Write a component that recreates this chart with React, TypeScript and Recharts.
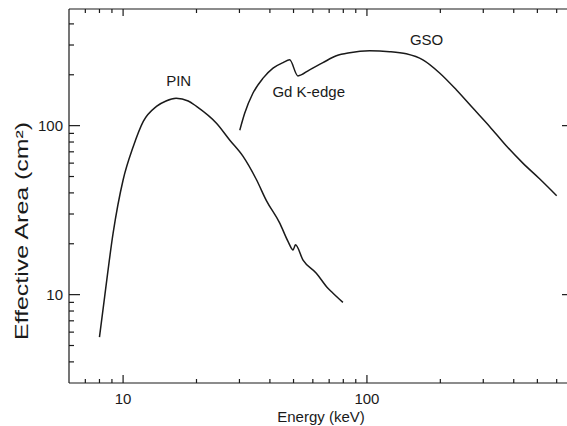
import { LineChart, Line, XAxis, YAxis, ReferenceDot, ReferenceLine } from "recharts";

// PIN diode effective area (keV, cm2)
const pinEnergy = [8.0, 8.4, 9.1, 10.0, 11.0, 12.1, 13.7, 15.0, 16.5, 18.5, 20.0, 24.2, 27.4, 31.0, 35.2, 38.7, 43.9, 47.5, 49.8, 50.9, 54.7, 62.0, 69.2, 72.6, 79.7];
const pinArea = [5.6, 9.7, 23.1, 47.7, 75, 106, 130, 140, 145, 140, 130, 103, 82, 66, 48, 36, 26.5, 20.6, 18.4, 19.7, 16.0, 13.4, 10.9, 10.2, 9.0];

// GSO scintillator effective area
const gsoEnergy = [30.1, 31.5, 34.1, 37.5, 41.2, 45.3, 48.2, 52.1, 58.2, 66.0, 74.9, 85.0, 102.6, 123.9, 145.0, 169.6, 198.6, 232.5, 271.9, 318.4, 372.6, 435.9, 510.4, 600];
const gsoArea = [94, 118, 156, 191, 219, 236, 245, 197, 214, 236, 259, 270, 277, 274, 266, 245, 205, 163, 127, 99, 76, 60, 48.5, 38.5];

const xTicks = [7, 8, 9, 10, 20, 30, 40, 50, 60, 70, 80, 90, 100, 200, 300, 400, 500, 600];
const xMajor = [10, 100];
const yTicks = [4, 5, 6, 7, 8, 9, 10, 20, 30, 40, 50, 60, 70, 80, 90, 100, 200, 300, 400];
const yMajor = [10, 100];

const xDomain = [6, 700];
const yDomain = [3, 490];

const pin = pinEnergy.map((e, i) => ({ e, a: pinArea[i] }));
const gso = gsoEnergy.map((e, i) => ({ e, a: gsoArea[i] }));

const ink = "#1a1a1a";
const font = "'Liberation Sans', Arial, sans-serif";

// plot box is 504 x 374 px; tick lengths in px turned into log-scale factors
const xDecade = 504 / Math.log10(xDomain[1] / xDomain[0]);
const yDecade = 374 / Math.log10(yDomain[1] / yDomain[0]);
const kx = (px: number) => Math.pow(10, px / xDecade);
const ky = (px: number) => Math.pow(10, px / yDecade);

function BottomLabel(p: any) {
  if (!xMajor.includes(p.payload.value)) return <g />;
  return (
    <text x={p.x} y={p.y + 20.5} textAnchor="middle" fontSize={15} fontFamily={font} fill={ink}>
      {p.payload.value}
    </text>
  );
}

function LeftLabel(p: any) {
  if (!yMajor.includes(p.payload.value)) return <g />;
  return (
    <text x={p.x - 6} y={p.y + 5.3} textAnchor="end" fontSize={15} fontFamily={font} fill={ink}>
      {p.payload.value}
    </text>
  );
}

const labelStyle = { fontSize: 15, fontFamily: font, fill: ink, position: "center" as const };
const tickLine = { stroke: ink, strokeWidth: 1.2, ifOverflow: "visible" as const };

export default function App() {
  return (
    <div style={{ position: "absolute", left: 0, top: 0, width: 567, height: 426, overflow: "hidden", background: "#fff" }}>
      <LineChart width={600} height={426} margin={{ top: 9, right: 27, bottom: 0, left: 0 }}>
        <XAxis
          dataKey="e"
          type="number"
          scale="log"
          domain={xDomain}
          allowDataOverflow
          ticks={xTicks}
          interval={0}
          height={43}
          tickSize={0}
          tickMargin={0}
          tickLine={false}
          axisLine={{ stroke: ink, strokeWidth: 1.2 }}
          tick={BottomLabel}
          label={{
            content: () => (
              <text x={321} y={422} textAnchor="middle" fontSize={15} fontFamily={font} fill={ink}>
                Energy (keV)
              </text>
            ),
          }}
        />
        <YAxis
          type="number"
          scale="log"
          domain={yDomain}
          allowDataOverflow
          ticks={yTicks}
          interval={0}
          width={69}
          tickSize={0}
          tickMargin={0}
          tickLine={false}
          axisLine={{ stroke: ink, strokeWidth: 1.2 }}
          tick={LeftLabel}
          label={{
            content: () => (
              <text
                transform="translate(28,231) rotate(-90)"
                textAnchor="middle"
                fontSize={18}
                fontFamily={font}
                fill={ink}
                textLength={218}
                lengthAdjust="spacingAndGlyphs"
              >
                Effective Area (cm²)
              </text>
            ),
          }}
        />
        <ReferenceLine y={yDomain[1]} {...tickLine} />
        <ReferenceLine x={xDomain[1]} {...tickLine} />
        {xTicks.map((v) => {
          const major = xMajor.includes(v);
          return [
            <ReferenceLine key={`b${v}`} segment={[{ x: v, y: yDomain[0] }, { x: v, y: yDomain[0] * ky(major ? 8 : 4) }]} {...tickLine} />,
            <ReferenceLine key={`t${v}`} segment={[{ x: v, y: yDomain[1] }, { x: v, y: yDomain[1] / ky(major ? 7 : 4) }]} {...tickLine} />,
          ];
        })}
        {yTicks.map((v) => {
          const major = yMajor.includes(v);
          return [
            <ReferenceLine key={`l${v}`} segment={[{ x: xDomain[0], y: v }, { x: xDomain[0] * kx(major ? 11 : 5), y: v }]} {...tickLine} />,
            <ReferenceLine key={`r${v}`} segment={[{ x: xDomain[1], y: v }, { x: xDomain[1] / kx(major ? 11 : 5), y: v }]} {...tickLine} />,
          ];
        })}
        <Line data={pin} dataKey="a" type="monotone" stroke={ink} strokeWidth={1.5} dot={false} isAnimationActive={false} />
        <Line data={gso} dataKey="a" type="monotone" stroke={ink} strokeWidth={1.5} dot={false} isAnimationActive={false} />
        <ReferenceDot x={16.9} y={184} r={0} label={{ value: "PIN", ...labelStyle }} />
        <ReferenceDot x={57.7} y={158} r={0} label={{ value: "Gd K-edge", ...labelStyle }} />
        <ReferenceDot x={175.6} y={324} r={0} label={{ value: "GSO", ...labelStyle }} />
      </LineChart>
    </div>
  );
}
